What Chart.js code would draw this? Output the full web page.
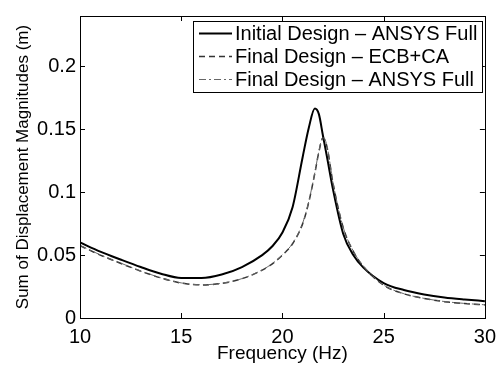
<!DOCTYPE html>
<html><head><meta charset="utf-8">
<script src="https://cdn.jsdelivr.net/npm/chart.js@4.4.1/dist/chart.umd.min.js"></script>
<style>html,body{margin:0;padding:0;background:#fff}#wrap{width:503px;height:365px;position:relative}</style>
</head><body><div id="wrap"><canvas id="c" width="503" height="365"></canvas></div>
<script>
const freqs = [10,11,12,13,14,15,16,17,18,19,19.5,20,20.5,21,21.3,21.6,21.8,22,22.2,22.5,23,23.5,24,25,26,27,28,29,30];
const initialAnsys = [0.060,0.0528,0.0465,0.0405,0.0352,0.0318,0.0317,0.0345,0.0405,0.050,0.057,0.068,0.088,0.128,0.151,0.1665,0.162,0.145,0.128,0.102,0.067,0.050,0.040,0.0278,0.0222,0.0187,0.0163,0.0147,0.0134];
const finalEcb = [0.0575,0.0500,0.0435,0.0372,0.0318,0.0278,0.0263,0.0275,0.0312,0.038,0.043,0.050,0.059,0.075,0.092,0.115,0.132,0.143,0.136,0.107,0.072,0.053,0.041,0.026,0.0192,0.0155,0.013,0.0115,0.0104];
const finalAnsys = [0.0578,0.0502,0.0437,0.0374,0.0319,0.0279,0.0264,0.0276,0.0313,0.0382,0.0433,0.0503,0.0593,0.0755,0.0925,0.1155,0.1325,0.1440,0.1368,0.1075,0.0722,0.0532,0.0412,0.0262,0.0193,0.0156,0.0131,0.0116,0.0105];
const seriesNames = ['Initial Design \u2013 ANSYS Full','Final Design \u2013 ECB+CA','Final Design \u2013 ANSYS Full'];
const xTicks = [10,15,20,25,30];
const yTicks = [0,0.05,0.1,0.15,0.2];
const yTickLabels = ['0','0.05','0.1','0.15','0.2'];

const FONT = 'Liberation Sans, Arial, Helvetica, sans-serif';
const styles = [
  {color:'#000000', width:2, dash:[]},
  {color:'#333333', width:1.5, dash:[6,4]},
  {color:'#666666', width:1, dash:[7,3,2,3]}
];
const seriesData = [initialAnsys, finalEcb, finalAnsys];

const frame = {
  id:'frame',
  afterDraw(chart){
    const {ctx, chartArea:a, scales:{x,y}} = chart;
    ctx.save();
    ctx.strokeStyle = '#000'; ctx.lineWidth = 1;
    ctx.strokeRect(Math.round(a.left)+0.5, Math.round(a.top)+0.5, Math.round(a.right-a.left), Math.round(a.bottom-a.top));
    const tl = 5;
    ctx.beginPath();
    xTicks.forEach(v=>{const px=Math.round(x.getPixelForValue(v))+0.5;
      ctx.moveTo(px,a.bottom); ctx.lineTo(px,a.bottom-tl);
      ctx.moveTo(px,a.top); ctx.lineTo(px,a.top+tl);});
    yTicks.forEach(v=>{const py=Math.round(y.getPixelForValue(v))+0.5;
      ctx.moveTo(a.left,py); ctx.lineTo(a.left+tl,py);
      ctx.moveTo(a.right,py); ctx.lineTo(a.right-tl,py);});
    ctx.stroke();
    // legend box
    const bx=193.5, by=21.5, bw=289, bh=71;
    ctx.fillStyle='#fff'; ctx.fillRect(bx,by,bw,bh);
    ctx.strokeRect(bx,by,bw,bh);
    ctx.font = '20px '+FONT; ctx.textBaseline='middle'; ctx.fillStyle='#000';
    const rows=[33,56,79];
    seriesNames.forEach((n,i)=>{
      const s=styles[i];
      ctx.beginPath(); ctx.strokeStyle=s.color; ctx.lineWidth=s.width; ctx.setLineDash(s.dash);
      ctx.moveTo(199,rows[i]+0.5); ctx.lineTo(232,rows[i]+0.5); ctx.stroke();
      ctx.setLineDash([]);
      ctx.fillText(n,235,rows[i]+1);
    });
    ctx.restore();
  }
};

new Chart(document.getElementById('c'),{
  type:'line',
  data:{datasets: seriesData.map((d,i)=>({
    label: seriesNames[i],
    data: freqs.map((f,j)=>({x:f,y:d[j]})),
    borderColor: styles[i].color, borderWidth: styles[i].width, borderDash: styles[i].dash,
    pointRadius:0, fill:false, cubicInterpolationMode:'monotone'
  })).reverse()},
  options:{
    responsive:false, animation:false, devicePixelRatio:1,
    layout:{padding:{top:16,right:16,left:0,bottom:0}},
    plugins:{legend:{display:false}, tooltip:{enabled:false}},
    scales:{
      x:{type:'linear', min:10, max:30,
        grid:{display:false, drawTicks:false}, border:{display:false},
        afterBuildTicks:s=>{s.ticks=xTicks.map(v=>({value:v}));},
        afterFit:s=>{s.height=47;},
        ticks:{padding:7, color:'#000', font:{family:FONT,size:20}, maxRotation:0, autoSkip:false, callback:v=>String(v)},
        title:{display:true, text:'Frequency (Hz)', color:'#000', font:{family:FONT,size:19}, padding:{top:-6,bottom:0}}
      },
      y:{type:'linear', min:0, max:0.24,
        grid:{display:false, drawTicks:false}, border:{display:false},
        afterBuildTicks:s=>{s.ticks=yTicks.map(v=>({value:v}));},
        afterFit:s=>{s.width=80;},
        ticks:{padding:4, color:'#000', font:{family:FONT,size:20}, autoSkip:false,
          callback:(v)=>{const k=yTicks.findIndex(t=>Math.abs(t-v)<1e-9);return k>=0?yTickLabels[k]:'';}},
        title:{display:true, text:'Sum of Displacement Magnitudes (m)', color:'#000', font:{family:FONT,size:17}, padding:{top:13,bottom:0}}
      }
    }
  },
  plugins:[frame]
});
</script></body></html>
